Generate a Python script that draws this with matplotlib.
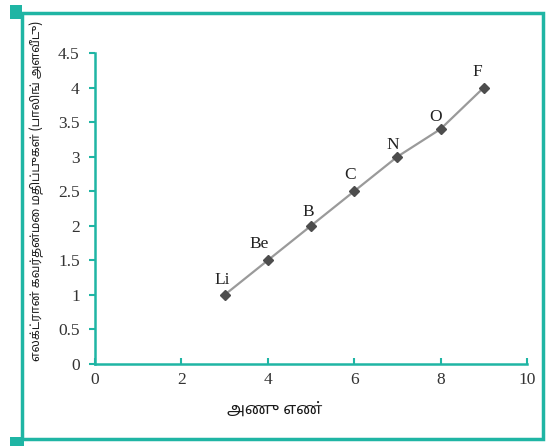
import matplotlib
matplotlib.use('Agg')
import matplotlib.pyplot as plt
from matplotlib import font_manager
from matplotlib.ft2font import FT2Font
from matplotlib.patches import Rectangle

# data
atomic_no = [3, 4, 5, 6, 7, 8, 9]
electroneg = [1.0, 1.5, 2.0, 2.5, 3.0, 3.4, 4.0]
symbols = ['Li', 'Be', 'B', 'C', 'N', 'O', 'F']
label_offsets = [(-2, 10.5), (-6.5, 11.5), (-2, 10), (-3, 11.5), (-3.5, 8.5), (-3.5, 9), (-4.5, 11)]
xticks = [0, 2, 4, 6, 8, 10]
yticks = [0, 0.5, 1, 1.5, 2, 2.5, 3, 3.5, 4, 4.5]
ytick_labels = ['0', '0.5', '1', '1.5', '2', '2.5', '3', '3.5', '4', '4.5']
ylabel = 'எலக்ட்ரான் கவர்தன்மை மதிப்புகள் (பாலிங் அளவீடு)'
xlabel = 'அணு எண்'

teal = '#1fb5a4'

# look for a font that has Tamil glyphs, prefer a dedicated Tamil one
found = []
for f in font_manager.fontManager.ttflist:
    try:
        if 0x0B85 in FT2Font(f.fname).get_charmap():
            found.append(f.name)
    except Exception:
        pass
found.sort(key=lambda n: (('Tamil' not in n), ('Sans' not in n), n))
tfam = [found[0], 'DejaVu Sans'] if found else ['DejaVu Sans']

fig = plt.figure(figsize=(5.48, 4.46), dpi=100)
ax = fig.add_axes([0.1734, 0.1839, 0.7883, 0.6973])

ax.plot(atomic_no, electroneg, color='#9a9a9a', lw=1.6, zorder=2)
ax.plot(atomic_no, electroneg, ls='none', marker='D', ms=5.5, color='#4d4d4d', zorder=3)
for x, y, s, off in zip(atomic_no, electroneg, symbols, label_offsets):
    ax.annotate(s, (x, y), xytext=off, textcoords='offset points', ha='center', va='center',
                fontsize=12.5, family='Liberation Serif', color='#222222')

ax.set_xlim(0, 10)
ax.set_ylim(0, 4.5)
ax.set_xticks(xticks)
ax.set_yticks(yticks)
ax.set_yticklabels(ytick_labels)
for s in ['top', 'right']:
    ax.spines[s].set_visible(False)
for s in ['left', 'bottom']:
    ax.spines[s].set_color(teal)
    ax.spines[s].set_linewidth(1.8)
ax.tick_params(axis='x', direction='in', length=4, width=1.5, color=teal, pad=6)
ax.tick_params(axis='y', direction='out', length=4, width=1.5, color=teal, pad=7)
for lab in ax.get_xticklabels() + ax.get_yticklabels():
    lab.set_fontfamily('Liberation Serif')
    lab.set_fontsize(12.5)
    lab.set_color('#333333')

fig.text(37 / 548, 1 - 191 / 446, ylabel, rotation=90, ha='center', va='center',
         fontsize=8.7, family=tfam, color='#1a1a1a')
fig.text(275 / 548, 1 - 410 / 446, xlabel, ha='center', va='center',
         fontsize=11.5, family=tfam, color='#1a1a1a')

# teal frame around the figure
fig.add_artist(Rectangle((22 / 548, 1 - 439 / 446), 521 / 548, 426 / 446, transform=fig.transFigure,
                         fill=False, ec=teal, lw=2.5))
fig.add_artist(Rectangle((10 / 548, 1 - 19 / 446), 12 / 548, 14 / 446, transform=fig.transFigure,
                         fc=teal, ec='none'))
fig.add_artist(Rectangle((10 / 548, 1 - 446 / 446), 14 / 548, 9 / 446, transform=fig.transFigure,
                         fc=teal, ec='none'))

fig.savefig('out.png', dpi=100)
